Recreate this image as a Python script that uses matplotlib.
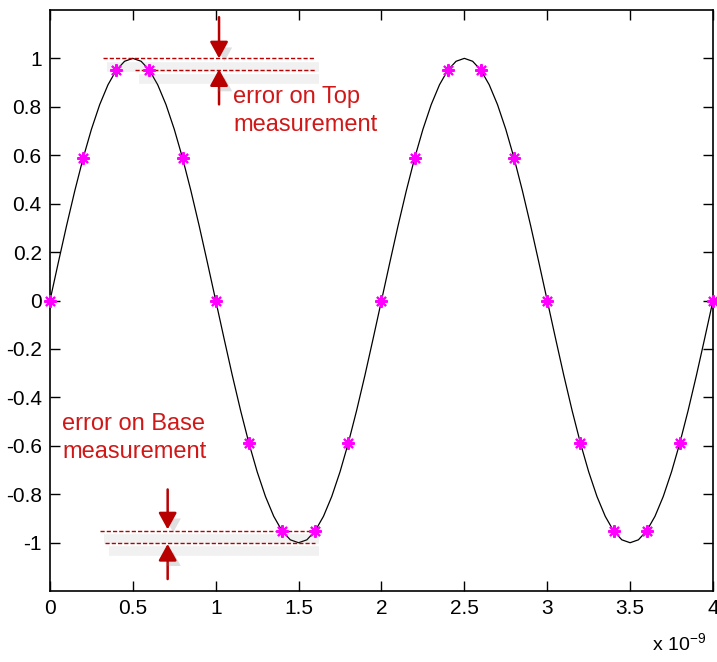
import matplotlib.pyplot as plt
import matplotlib.patheffects as pe

plt.rcParams['font.family'] = ['Liberation Sans', 'DejaVu Sans']

# continuous waveform, time in ns (step 0.05)
t_curve = [i * 0.05 for i in range(81)]
v_curve = [0, 0.156, 0.309, 0.454, 0.588, 0.707, 0.809, 0.891, 0.951, 0.988,
           1.0, 0.988, 0.951, 0.891, 0.809, 0.707, 0.588, 0.454, 0.309, 0.156,
           0, -0.156, -0.309, -0.454, -0.588, -0.707, -0.809, -0.891, -0.951, -0.988,
           -1.0, -0.988, -0.951, -0.891, -0.809, -0.707, -0.588, -0.454, -0.309, -0.156,
           0, 0.156, 0.309, 0.454, 0.588, 0.707, 0.809, 0.891, 0.951, 0.988,
           1.0, 0.988, 0.951, 0.891, 0.809, 0.707, 0.588, 0.454, 0.309, 0.156,
           0, -0.156, -0.309, -0.454, -0.588, -0.707, -0.809, -0.891, -0.951, -0.988,
           -1.0, -0.988, -0.951, -0.891, -0.809, -0.707, -0.588, -0.454, -0.309, -0.156,
           0]

# sampled points (every 0.2 ns)
t_samp = [0, 0.2, 0.4, 0.6, 0.8, 1.0, 1.2, 1.4, 1.6, 1.8, 2.0,
          2.2, 2.4, 2.6, 2.8, 3.0, 3.2, 3.4, 3.6, 3.8, 4.0]
v_samp = [0, 0.588, 0.951, 0.951, 0.588, 0, -0.588, -0.951, -0.951, -0.588, 0,
          0.588, 0.951, 0.951, 0.588, 0, -0.588, -0.951, -0.951, -0.588, 0]

xticks = [0, 0.5, 1, 1.5, 2, 2.5, 3, 3.5, 4]
xticklabels = ['0', '0.5', '1', '1.5', '2', '2.5', '3', '3.5', '4']
yticks = [-1, -0.8, -0.6, -0.4, -0.2, 0, 0.2, 0.4, 0.6, 0.8, 1]
yticklabels = ['-1', '-0.8', '-0.6', '-0.4', '-0.2', '0', '0.2', '0.4', '0.6', '0.8', '1']

# error marker lines: (y, x_start, x_end)
err_lines = [(1.0, 0.32, 1.6), (0.951, 0.51, 1.6), (-0.951, 0.30, 1.6), (-1.0, 0.33, 1.6)]
# arrows: (x, y_from, y_to)
err_arrows = [(1.02, 1.17, 1.0), (1.02, 0.81, 0.955), (0.71, -0.78, -0.945), (0.71, -1.15, -1.005)]

dark_red = '#b80000'
text_red = '#d01818'

fig = plt.figure(figsize=(7.17, 6.62), dpi=100)
ax = fig.add_axes([0.0697, 0.107, 0.9247, 0.878])

ax.plot(t_curve, v_curve, color='black', lw=0.9)
ax.plot(t_samp, v_samp, linestyle='none', marker=(8, 2, 0), markersize=9,
        markeredgewidth=1.5, color='magenta', clip_on=False, zorder=5)

# soft shadow under the error lines, then the dashed lines themselves
for y, x0, x1 in err_lines:
    ax.plot([x0, x1], [y, y], color='gray', lw=1, solid_capstyle='butt', zorder=3,
            path_effects=[pe.SimpleLineShadow(offset=(3, -6), shadow_color='gray', alpha=0.11, linewidth=7)])
    ax.plot([x0, x1], [y, y], color=dark_red, lw=1.0, ls=(0, (3, 1.5)), zorder=4)

for x, y0, y1 in err_arrows:
    ax.annotate('', xy=(x, y1), xytext=(x, y0),
                arrowprops=dict(arrowstyle='-|>,head_length=1.0,head_width=0.55',
                                color=dark_red, lw=1.8, shrinkA=0, shrinkB=0,
                                path_effects=[pe.SimplePatchShadow(offset=(4, -4), shadow_rgbFace='gray', alpha=0.25),
                                              pe.Normal()]),
                zorder=6)

ax.text(1.105, 0.885, 'error on Top\nmeasurement', color=text_red, fontsize=17,
        va='top', ha='left', linespacing=1.35)
ax.text(0.075, -0.465, 'error on Base\nmeasurement', color=text_red, fontsize=17,
        va='top', ha='left', linespacing=1.35)

ax.set_xlim(0, 4)
ax.set_ylim(-1.2, 1.2)
ax.set_xticks(xticks)
ax.set_xticklabels(xticklabels)
ax.set_yticks(yticks)
ax.set_yticklabels(yticklabels)
ax.tick_params(direction='in', top=True, right=True, length=7, width=1, labelsize=15, pad=6)
for s in ax.spines.values():
    s.set_linewidth(1.2)

fig.text(0.985, 0.01, r'x 10$^{\mathregular{-9}}$', ha='right', va='bottom', fontsize=14)

fig.savefig('out.png', dpi=100, facecolor='white')
